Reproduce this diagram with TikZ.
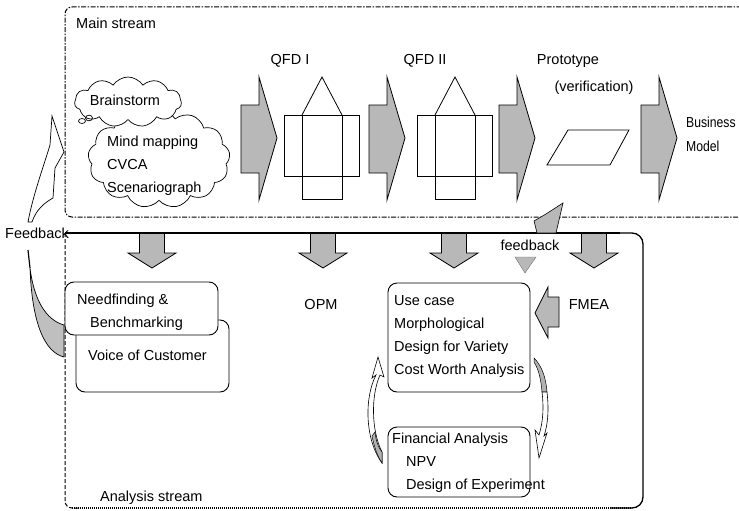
\documentclass[tikz,border=0pt]{standalone}
\usepackage{fontspec}
\setmainfont{Liberation Sans}
\newfontfamily\narrowsans[FakeStretch=0.84]{Liberation Sans}
\usetikzlibrary{shapes.symbols}

\begin{document}
\begin{tikzpicture}[x=1pt,y=-1pt,
  every node/.style={font=\fontsize{14.5}{17}\selectfont, inner sep=0pt},
  lbl/.style={anchor=base west},
  blk/.style={draw=black, fill=black!28, line width=0.8pt, line join=miter},
  outline/.style={draw=black, line width=0.8pt},
  rbox/.style={draw=black, fill=white, line width=0.9pt, rounded corners=9pt},
  streambox/.style={draw=black, line width=1pt,
    dash pattern=on 5pt off 1.5pt on 1.5pt off 1.5pt},
  rarrow/.pic={\draw[blk] (0,-33) -- (18,-33) -- (18,-61) -- (36,0)
      -- (18,62) -- (18,35) -- (0,35) -- cycle;},
  darrow/.pic={\draw[blk] (-12.5,0) -- (12.5,0) -- (12.5,20) -- (24,20)
      -- (0,35) -- (-24,20) -- (-12.5,20) -- cycle;},
  qfd/.pic={\draw[outline] (-37.5,38) rectangle (37.5,99);
      \draw[outline] (-20,38) -- (-20,122) -- (20,122) -- (20,38);
      \draw[outline] (-20,38) -- (0,0) -- (20,38);}
]
\useasboundingbox (0,0) rectangle (739,511);
\clip (0,0) rectangle (739,511);

% ---------- main stream frame ----------
\draw[streambox, rounded corners=7pt] (770,7) -- (65,7) -- (65,217) -- (770,217);
\node[lbl] (mainlbl) at (76,29) {Main stream};

% idea clouds
\node[cloud, draw, fill=white, line width=0.7pt, cloud puffs=13, cloud puff arc=115,
      cloud ignores aspect, minimum width=142pt, minimum height=98pt] (ideas) at (159,159) {};
\node[cloud, draw, fill=white, line width=0.7pt, cloud puffs=11, cloud puff arc=115,
      cloud ignores aspect, minimum width=107pt, minimum height=50pt] (brain) at (128,102) {};
\draw[line width=0.7pt] (82,121) ellipse (3.5pt and 2.5pt);
\draw[line width=0.7pt] (89,118) ellipse (3.5pt and 2.8pt);
\node[anchor=center] (brainlbl) at (125,100) {Brainstorm};
\node[lbl] (mindlbl) at (107,146) {Mind mapping};
\node[lbl] (cvcalbl) at (107,169) {CVCA};
\node[lbl] (scenlbl) at (107,192) {Scenariograph};

% process chain
\pic at (241,138) {rarrow};
\pic at (322,77) {qfd};
\node (qfd1) at (290,61) {QFD I};
\pic at (369,138) {rarrow};
\pic at (455,77) {qfd};
\node (qfd2) at (425,61) {QFD II};
\pic at (499,138) {rarrow};
\draw[outline] (547,165) -- (568,130) -- (629,130) -- (610,165) -- cycle;
\node (proto) at (568,61) {Prototype};
\node (verif) at (594,88) {(verification)};
\pic at (641,138) {rarrow};
\node[lbl, font=\narrowsans\fontsize{14.5}{17}\selectfont] (busi) at (686,127) {Business};
\node[lbl, font=\narrowsans\fontsize{14.5}{17}\selectfont] (model) at (686,151) {Model};

% ---------- analysis stream frame ----------
\pic at (152,233) {darrow};
\pic at (323,233) {darrow};
\pic at (454,233) {darrow};
\pic at (594,233) {darrow};
\draw[line width=1pt, dash pattern=on 4pt off 2pt, rounded corners=7pt]
  (65,233) -- (65,508) -- (80,508);
\draw[line width=1.3pt, dash pattern=on 1.2pt off 0.8pt] (72,508) -- (632,508);
\draw[line width=1.3pt, rounded corners=11pt] (600,233) -- (643,233) -- (643,508) -- (610,508);
\draw[line width=2pt] (65,233) -- (620,233);
\node[lbl] (analbl) at (100,501) {Analysis stream};

% feedback to the prototype
\draw[draw=black, fill=black!28, line width=0.6pt, line join=miter]
  (537,233) -- (534,221) -- (546,214) -- (563,203) -- (556,233) -- cycle;
\node (fbsmall) at (530,245) {feedback};
\draw[draw=black!55, fill=black!28, line width=0.4pt] (515,257) -- (536,257) -- (525,273) -- cycle;

% analysis boxes
\node[rbox, minimum width=153pt, minimum height=72pt] (voc) at (152.5,356) {};
\node[rbox, minimum width=153pt, minimum height=53pt] (need) at (141.5,308.5) {};
\node[lbl] (needlbl) at (77,304) {Needfinding \&};
\node[lbl] (benchlbl) at (90,327) {Benchmarking};
\node[lbl] (voclbl) at (88,360) {Voice of Customer};

\node (opm) at (321,305) {OPM};

\node[rbox, minimum width=142pt, minimum height=109pt] (usecase) at (459,337.5) {};
\node[lbl] (uc1) at (394,305) {Use case};
\node[lbl] (uc2) at (394,328) {Morphological};
\node[lbl] (uc3) at (394,351) {Design for Variety};
\node[lbl] (uc4) at (394,374) {Cost Worth Analysis};

\node[rbox, minimum width=142pt, minimum height=70pt] (fin) at (459,462) {};
\node[lbl] (fin1) at (392,443) {Financial Analysis};
\node[lbl] (fin2) at (406,466) {NPV};
\node[lbl] (fin3) at (406,489) {Design of Experiment};

% FMEA input
\draw[blk] (559,297) -- (548,297) -- (548,287) -- (535,313) -- (548,338)
  -- (548,327) -- (559,327) -- cycle;
\node (fmea) at (589,305) {FMEA};

% loop between the two analysis boxes
\draw[draw=black, fill=white, line width=0.6pt]
  (378,357) -- (384,377) -- (380,375) .. controls (371,395) and (371,430) .. (382,452)
  -- (382,463) .. controls (365,440) and (364,398) .. (376,375) -- (372,378) -- cycle;
\draw[draw=black, fill=black!30, line width=0.5pt]
  (372,436) .. controls (375,450) and (378,457) .. (382,463) -- (382,452)
  .. controls (378,447) and (376,441) .. (375,432) -- cycle;
\draw[draw=black, fill=black!30, line width=0.5pt]
  (534,358) .. controls (542,366) and (546,378) .. (547,392) -- (542,392)
  .. controls (541,380) and (539,370) .. (534,362) -- cycle;
\draw[draw=black, fill=white, line width=0.6pt]
  (547,392) .. controls (549,410) and (548,424) .. (544,436) -- (547,433) -- (539,458)
  -- (535,430) -- (539,435) .. controls (543,422) and (544,408) .. (542,392) -- cycle;

% overall feedback loop
\draw[draw=black, fill=black!25, line width=0.7pt]
  (30,268) .. controls (34,300) and (46,320) .. (64,325) -- (64,357)
  .. controls (44,352) and (32,322) .. (30,268) -- cycle;
\draw[line width=1.2pt] (28,250) -- (30,268);
\draw[draw=black, fill=white, line width=0.7pt, line join=miter]
  (28,222) .. controls (33,195) and (44,165) .. (50,145) -- (52,116) -- (64,152)
  -- (55,168) -- (53,198) .. controls (44,203) and (36,210) .. (32,222) -- cycle;
\node (fbbig) at (37,233) {Feedback};
\end{tikzpicture}
\end{document}
